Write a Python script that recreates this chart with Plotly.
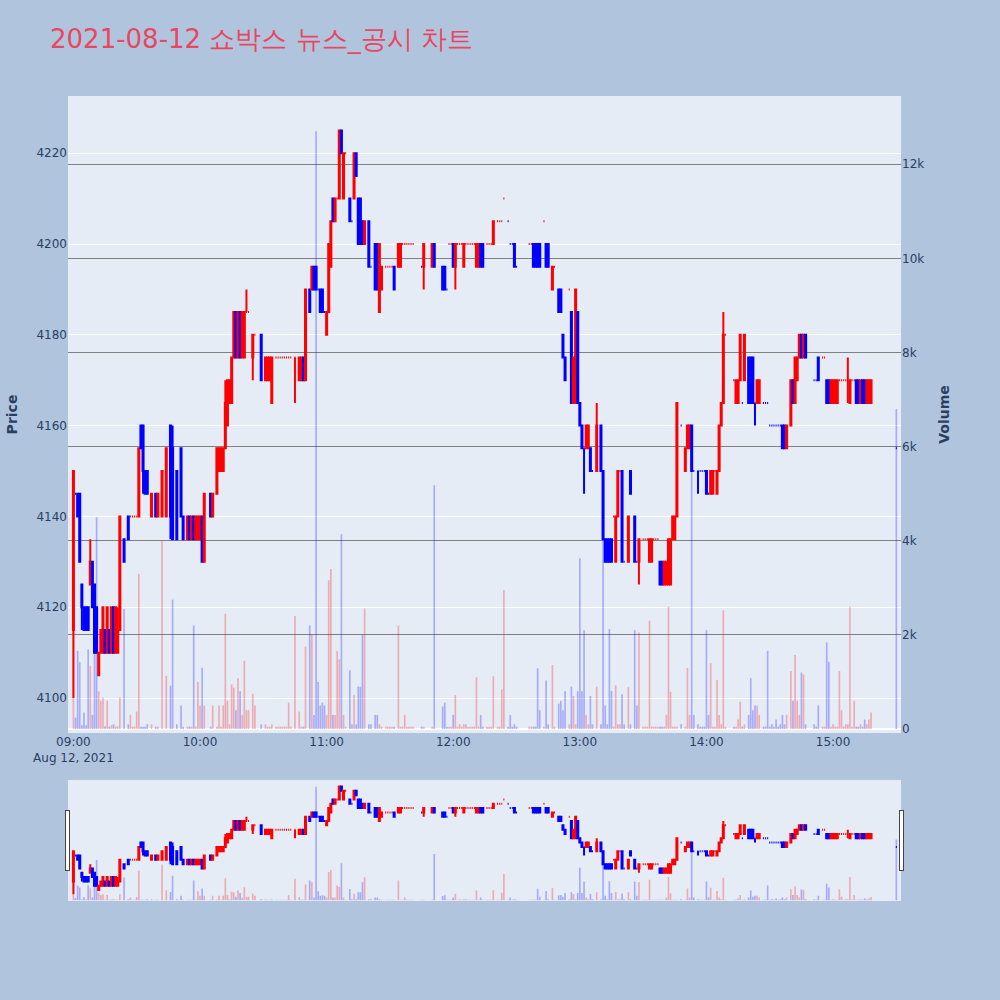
import plotly.graph_objects as go
from plotly.subplots import make_subplots

TRADE_DATE = "2021-08-12"
TITLE = "2021-08-12 쇼박스 뉴스_공시 차트"

times = [
    "09:00", "09:01", "09:02", "09:03", "09:04", "09:05", "09:06", "09:07", "09:08", "09:09",
    "09:10", "09:11", "09:12", "09:13", "09:14", "09:15", "09:16", "09:17", "09:18", "09:19",
    "09:20", "09:21", "09:22", "09:24", "09:26", "09:27", "09:28", "09:29", "09:30", "09:31",
    "09:32", "09:33", "09:34", "09:35", "09:37", "09:39", "09:40", "09:42", "09:44", "09:46",
    "09:47", "09:49", "09:51", "09:52", "09:54", "09:55", "09:56", "09:57", "09:58", "09:59",
    "10:00", "10:01", "10:02", "10:05", "10:06", "10:08", "10:09", "10:10", "10:11", "10:12",
    "10:13", "10:14", "10:15", "10:16", "10:17", "10:18", "10:19", "10:20", "10:21", "10:22",
    "10:23", "10:25", "10:26", "10:29", "10:31", "10:32", "10:33", "10:34", "10:36", "10:37",
    "10:38", "10:39", "10:40", "10:41", "10:42", "10:43", "10:45", "10:47", "10:48", "10:49",
    "10:50", "10:52", "10:53", "10:54", "10:55", "10:56", "10:57", "10:58", "10:59", "11:00",
    "11:01", "11:02", "11:03", "11:04", "11:05", "11:06", "11:07", "11:08", "11:09", "11:11",
    "11:12", "11:13", "11:14", "11:15", "11:16", "11:17", "11:18", "11:20", "11:21", "11:23",
    "11:24", "11:25", "11:26", "11:28", "11:29", "11:30", "11:31", "11:32", "11:34", "11:35",
    "11:36", "11:37", "11:38", "11:39", "11:40", "11:41", "11:45", "11:46", "11:50", "11:51",
    "11:55", "11:56", "11:57", "11:58", "11:59", "12:00", "12:01", "12:02", "12:03", "12:04",
    "12:05", "12:06", "12:07", "12:08", "12:09", "12:10", "12:11", "12:12", "12:13", "12:14",
    "12:16", "12:17", "12:18", "12:19", "12:21", "12:22", "12:23", "12:24", "12:26", "12:27",
    "12:28", "12:29", "12:30", "12:36", "12:37", "12:38", "12:39", "12:40", "12:41", "12:43",
    "12:44", "12:45", "12:47", "12:48", "12:50", "12:51", "12:52", "12:53", "12:55", "12:56",
    "12:57", "12:58", "12:59", "13:00", "13:01", "13:02", "13:03", "13:04", "13:05", "13:06",
    "13:08", "13:10", "13:11", "13:12", "13:13", "13:14", "13:15", "13:16", "13:17", "13:18",
    "13:19", "13:20", "13:21", "13:23", "13:24", "13:26", "13:27", "13:28", "13:30", "13:31",
    "13:32", "13:33", "13:34", "13:35", "13:36", "13:37", "13:38", "13:39", "13:40", "13:41",
    "13:42", "13:43", "13:44", "13:45", "13:46", "13:48", "13:50", "13:51", "13:52", "13:53",
    "13:54", "13:56", "13:57", "13:58", "13:59", "14:00", "14:01", "14:02", "14:03", "14:04",
    "14:05", "14:06", "14:07", "14:08", "14:09", "14:13", "14:14", "14:15", "14:16", "14:17",
    "14:18", "14:20", "14:21", "14:22", "14:23", "14:24", "14:25", "14:27", "14:28", "14:29",
    "14:30", "14:31", "14:32", "14:33", "14:34", "14:35", "14:36", "14:37", "14:38", "14:40",
    "14:41", "14:42", "14:43", "14:44", "14:45", "14:46", "14:47", "14:51", "14:52", "14:53",
    "14:55", "14:56", "14:57", "14:58", "14:59", "15:00", "15:01", "15:02", "15:03", "15:04",
    "15:05", "15:06", "15:07", "15:08", "15:09", "15:10", "15:11", "15:12", "15:13", "15:14",
    "15:15", "15:16", "15:17", "15:18", "15:30",
]

opens = [
    4115, 4145, 4145, 4145, 4125, 4120, 4120, 4120, 4125, 4130,
    4125, 4120, 4105, 4110, 4110, 4115, 4110, 4115, 4110, 4120,
    4110, 4110, 4115, 4135, 4140, 4140, 4140, 4140, 4140, 4140,
    4160, 4160, 4150, 4150, 4140, 4145, 4140, 4140, 4140, 4160,
    4155, 4150, 4155, 4140, 4135, 4140, 4135, 4140, 4135, 4135,
    4135, 4140, 4130, 4145, 4140, 4145, 4150, 4150, 4150, 4155,
    4160, 4165, 4165, 4175, 4185, 4175, 4185, 4175, 4175, 4185,
    4185, 4175, 4180, 4180, 4170, 4170, 4170, 4165, 4175, 4175,
    4175, 4175, 4175, 4175, 4175, 4175, 4175, 4170, 4170, 4175,
    4170, 4190, 4190, 4195, 4195, 4190, 4190, 4190, 4185, 4180,
    4185, 4195, 4210, 4205, 4210, 4210, 4225, 4210, 4220, 4210,
    4205, 4210, 4220, 4210, 4210, 4205, 4200, 4205, 4195, 4200,
    4200, 4185, 4190, 4195, 4195, 4195, 4195, 4195, 4195, 4195,
    4200, 4200, 4200, 4200, 4200, 4200, 4195, 4195, 4195, 4200,
    4195, 4195, 4190, 4200, 4200, 4200, 4195, 4200, 4200, 4200,
    4195, 4200, 4200, 4200, 4200, 4200, 4195, 4195, 4200, 4200,
    4200, 4200, 4200, 4200, 4205, 4205, 4205, 4210, 4205, 4200,
    4200, 4200, 4195, 4200, 4200, 4200, 4200, 4200, 4200, 4205,
    4200, 4200, 4190, 4195, 4190, 4190, 4180, 4175, 4190, 4185,
    4165, 4165, 4185, 4165, 4160, 4155, 4155, 4155, 4155, 4150,
    4150, 4160, 4150, 4135, 4135, 4135, 4135, 4140, 4130, 4140,
    4150, 4150, 4130, 4130, 4150, 4140, 4130, 4130, 4135, 4135,
    4135, 4130, 4130, 4135, 4135, 4135, 4130, 4130, 4125, 4125,
    4125, 4125, 4135, 4135, 4140, 4160, 4150, 4155, 4155, 4160,
    4150, 4150, 4150, 4150, 4150, 4150, 4145, 4145, 4145, 4150,
    4145, 4150, 4160, 4165, 4180, 4170, 4165, 4165, 4170, 4165,
    4170, 4175, 4175, 4175, 4165, 4165, 4165, 4165, 4165, 4165,
    4160, 4160, 4160, 4160, 4160, 4160, 4160, 4160, 4155, 4160,
    4170, 4165, 4170, 4175, 4180, 4175, 4180, 4170, 4170, 4175,
    4175, 4175, 4170, 4170, 4165, 4165, 4165, 4165, 4170, 4170,
    4170, 4170, 4170, 4165, 4170, 4170, 4170, 4170, 4165, 4170,
    4170, 4165, 4165, 4165, 4155,
]

highs = [
    4150, 4145, 4145, 4145, 4125, 4120, 4120, 4120, 4135, 4130,
    4125, 4120, 4110, 4115, 4120, 4115, 4120, 4115, 4120, 4120,
    4120, 4120, 4140, 4135, 4140, 4140, 4140, 4140, 4140, 4155,
    4160, 4160, 4150, 4150, 4145, 4145, 4145, 4150, 4155, 4160,
    4160, 4150, 4155, 4140, 4140, 4140, 4140, 4140, 4140, 4140,
    4140, 4140, 4145, 4145, 4145, 4155, 4155, 4155, 4155, 4170,
    4170, 4170, 4175, 4185, 4185, 4185, 4185, 4185, 4185, 4190,
    4185, 4180, 4180, 4180, 4175, 4175, 4175, 4175, 4175, 4175,
    4175, 4175, 4175, 4175, 4175, 4175, 4175, 4175, 4175, 4175,
    4190, 4190, 4195, 4195, 4195, 4190, 4190, 4190, 4185, 4185,
    4200, 4205, 4210, 4210, 4210, 4225, 4225, 4220, 4220, 4210,
    4205, 4220, 4220, 4210, 4210, 4205, 4205, 4205, 4195, 4200,
    4200, 4200, 4195, 4195, 4195, 4195, 4195, 4195, 4200, 4200,
    4200, 4200, 4200, 4200, 4200, 4200, 4195, 4200, 4200, 4200,
    4195, 4195, 4190, 4200, 4200, 4200, 4200, 4200, 4200, 4200,
    4200, 4200, 4200, 4200, 4200, 4200, 4200, 4200, 4200, 4200,
    4200, 4200, 4200, 4205, 4205, 4205, 4205, 4210, 4205, 4200,
    4200, 4200, 4195, 4200, 4200, 4200, 4200, 4200, 4200, 4205,
    4200, 4200, 4195, 4195, 4190, 4190, 4180, 4175, 4190, 4185,
    4175, 4190, 4185, 4165, 4160, 4155, 4160, 4160, 4155, 4150,
    4165, 4160, 4150, 4135, 4135, 4135, 4135, 4140, 4140, 4150,
    4150, 4150, 4130, 4140, 4150, 4140, 4130, 4135, 4135, 4135,
    4135, 4135, 4135, 4135, 4135, 4135, 4130, 4130, 4130, 4130,
    4135, 4135, 4140, 4140, 4165, 4160, 4155, 4160, 4160, 4160,
    4150, 4150, 4150, 4150, 4150, 4150, 4145, 4150, 4150, 4150,
    4150, 4160, 4165, 4185, 4180, 4170, 4170, 4170, 4180, 4165,
    4180, 4175, 4175, 4175, 4165, 4170, 4170, 4165, 4165, 4165,
    4160, 4160, 4160, 4160, 4160, 4160, 4160, 4160, 4160, 4170,
    4170, 4175, 4175, 4180, 4180, 4180, 4180, 4170, 4170, 4175,
    4175, 4175, 4170, 4170, 4170, 4170, 4170, 4170, 4170, 4170,
    4170, 4170, 4175, 4170, 4170, 4170, 4170, 4170, 4170, 4170,
    4170, 4170, 4170, 4170, 4155,
]

lows = [
    4100, 4145, 4140, 4130, 4115, 4115, 4115, 4115, 4125, 4120,
    4110, 4110, 4105, 4110, 4110, 4110, 4110, 4110, 4110, 4110,
    4110, 4110, 4115, 4130, 4135, 4140, 4140, 4140, 4140, 4140,
    4155, 4145, 4145, 4145, 4140, 4140, 4140, 4140, 4140, 4135,
    4135, 4135, 4140, 4135, 4135, 4135, 4135, 4135, 4135, 4135,
    4135, 4130, 4130, 4140, 4140, 4145, 4150, 4150, 4150, 4155,
    4160, 4165, 4165, 4175, 4175, 4175, 4175, 4175, 4175, 4185,
    4185, 4170, 4180, 4170, 4170, 4170, 4170, 4165, 4175, 4175,
    4175, 4175, 4175, 4175, 4175, 4175, 4165, 4170, 4170, 4170,
    4170, 4185, 4190, 4190, 4190, 4190, 4185, 4185, 4185, 4180,
    4185, 4195, 4205, 4205, 4210, 4210, 4220, 4210, 4220, 4205,
    4205, 4210, 4215, 4200, 4200, 4200, 4200, 4195, 4195, 4190,
    4190, 4185, 4190, 4195, 4195, 4195, 4195, 4190, 4195, 4195,
    4200, 4200, 4200, 4200, 4200, 4200, 4195, 4190, 4195, 4195,
    4190, 4190, 4190, 4200, 4200, 4195, 4190, 4200, 4200, 4200,
    4195, 4200, 4200, 4200, 4200, 4200, 4195, 4195, 4195, 4195,
    4200, 4200, 4200, 4200, 4205, 4205, 4205, 4210, 4205, 4200,
    4200, 4195, 4195, 4200, 4200, 4195, 4195, 4195, 4195, 4205,
    4195, 4195, 4190, 4195, 4185, 4185, 4175, 4170, 4190, 4165,
    4165, 4165, 4165, 4160, 4155, 4145, 4155, 4155, 4150, 4150,
    4150, 4150, 4135, 4130, 4130, 4130, 4130, 4140, 4130, 4140,
    4150, 4130, 4130, 4130, 4145, 4130, 4130, 4125, 4135, 4135,
    4135, 4130, 4130, 4135, 4135, 4135, 4125, 4125, 4125, 4125,
    4125, 4125, 4135, 4135, 4140, 4160, 4150, 4155, 4155, 4150,
    4150, 4145, 4150, 4150, 4150, 4145, 4145, 4145, 4145, 4150,
    4145, 4150, 4160, 4165, 4180, 4170, 4165, 4165, 4170, 4165,
    4170, 4165, 4165, 4165, 4160, 4165, 4165, 4165, 4165, 4165,
    4160, 4160, 4160, 4160, 4160, 4160, 4155, 4155, 4155, 4160,
    4165, 4165, 4170, 4175, 4175, 4175, 4175, 4170, 4170, 4170,
    4175, 4175, 4165, 4165, 4165, 4165, 4165, 4165, 4170, 4170,
    4170, 4170, 4165, 4165, 4170, 4170, 4165, 4165, 4165, 4165,
    4165, 4165, 4165, 4165, 4155,
]

closes = [
    4150, 4145, 4140, 4130, 4120, 4115, 4115, 4115, 4130, 4120,
    4110, 4110, 4110, 4115, 4120, 4110, 4120, 4110, 4120, 4110,
    4120, 4115, 4140, 4130, 4135, 4140, 4140, 4140, 4140, 4155,
    4155, 4150, 4145, 4145, 4145, 4140, 4145, 4150, 4155, 4140,
    4135, 4135, 4140, 4135, 4140, 4135, 4140, 4135, 4140, 4140,
    4140, 4130, 4145, 4140, 4145, 4155, 4155, 4155, 4155, 4165,
    4170, 4170, 4175, 4185, 4175, 4185, 4175, 4185, 4185, 4185,
    4185, 4180, 4180, 4170, 4175, 4175, 4175, 4175, 4175, 4175,
    4175, 4175, 4175, 4175, 4175, 4175, 4175, 4175, 4175, 4170,
    4190, 4185, 4195, 4190, 4190, 4190, 4185, 4185, 4185, 4185,
    4200, 4205, 4205, 4210, 4210, 4225, 4220, 4220, 4220, 4205,
    4205, 4220, 4215, 4200, 4200, 4200, 4205, 4195, 4195, 4190,
    4190, 4200, 4195, 4195, 4195, 4195, 4195, 4190, 4200, 4200,
    4200, 4200, 4200, 4200, 4200, 4200, 4195, 4200, 4200, 4195,
    4190, 4190, 4190, 4200, 4200, 4195, 4200, 4200, 4200, 4200,
    4200, 4200, 4200, 4200, 4200, 4200, 4200, 4200, 4195, 4195,
    4200, 4200, 4200, 4205, 4205, 4205, 4205, 4210, 4205, 4200,
    4200, 4195, 4195, 4200, 4200, 4195, 4195, 4195, 4195, 4205,
    4195, 4195, 4195, 4195, 4185, 4185, 4175, 4170, 4190, 4165,
    4175, 4190, 4165, 4160, 4155, 4155, 4160, 4160, 4150, 4150,
    4160, 4150, 4135, 4130, 4130, 4130, 4130, 4140, 4140, 4150,
    4150, 4130, 4130, 4140, 4145, 4130, 4130, 4135, 4135, 4135,
    4135, 4135, 4135, 4135, 4135, 4135, 4125, 4125, 4130, 4130,
    4135, 4135, 4140, 4140, 4165, 4160, 4155, 4160, 4160, 4150,
    4150, 4150, 4150, 4150, 4150, 4145, 4145, 4150, 4150, 4150,
    4150, 4160, 4165, 4180, 4180, 4170, 4170, 4170, 4180, 4165,
    4180, 4165, 4165, 4165, 4165, 4170, 4170, 4165, 4165, 4165,
    4160, 4160, 4160, 4160, 4160, 4160, 4155, 4155, 4160, 4170,
    4165, 4175, 4175, 4180, 4175, 4180, 4175, 4170, 4170, 4170,
    4175, 4175, 4165, 4165, 4170, 4170, 4170, 4170, 4170, 4170,
    4170, 4170, 4170, 4170, 4170, 4170, 4165, 4165, 4170, 4165,
    4165, 4170, 4170, 4170, 4155,
]

volumes = [
    2800, 240, 1660, 1420, 80, 350, 80, 1690, 1340, 300,
    1690, 4500, 800, 600, 670, 60, 600, 50, 80, 100,
    50, 60, 670, 2550, 100, 300, 50, 50, 370, 3300,
    50, 50, 50, 100, 100, 50, 50, 4000, 1130, 920,
    2750, 100, 500, 50, 50, 50, 50, 2200, 50, 1000,
    500, 1300, 500, 50, 500, 50, 500, 50, 500, 2450,
    600, 100, 950, 880, 400, 1080, 800, 300, 1450, 400,
    400, 750, 500, 100, 100, 50, 50, 100, 50, 50,
    50, 50, 50, 50, 560, 50, 2400, 370, 50, 50,
    1750, 2200, 2000, 300, 12700, 1000, 500, 560, 500, 300,
    3160, 3400, 300, 300, 1660, 1480, 4140, 300, 50, 1250,
    100, 720, 100, 900, 900, 2000, 2560, 100, 100, 300,
    300, 100, 50, 50, 50, 50, 50, 50, 2200, 50,
    50, 300, 50, 50, 50, 50, 50, 50, 50, 5180,
    480, 560, 50, 50, 50, 300, 720, 50, 100, 50,
    100, 100, 50, 50, 50, 50, 1100, 50, 300, 50,
    50, 50, 50, 1120, 50, 50, 840, 2950, 50, 300,
    50, 100, 50, 50, 50, 50, 50, 1290, 400, 50,
    1030, 100, 1360, 50, 540, 600, 400, 800, 100, 900,
    700, 100, 800, 3630, 800, 2100, 300, 100, 700, 100,
    900, 100, 4000, 500, 100, 2120, 810, 50, 930, 100,
    100, 740, 100, 890, 100, 2100, 500, 2050, 50, 50,
    50, 2300, 50, 50, 50, 50, 50, 50, 50, 300,
    2600, 790, 50, 50, 50, 100, 50, 1300, 300, 6400,
    300, 100, 50, 50, 50, 2100, 300, 1400, 50, 50,
    1040, 300, 100, 2520, 50, 50, 50, 200, 580, 50,
    100, 300, 1080, 400, 500, 500, 300, 50, 50, 1660,
    50, 100, 50, 200, 50, 100, 300, 100, 300, 1230,
    600, 1570, 600, 300, 1200, 1160, 100, 100, 50, 500,
    50, 50, 1840, 1430, 50, 100, 50, 50, 1230, 400,
    50, 100, 100, 2600, 50, 600, 50, 50, 100, 50,
    200, 100, 200, 350, 6800,
]

UP_COLOR = "red"
DOWN_COLOR = "blue"
FONT = "DejaVu Sans"

x = [f"{TRADE_DATE} {t}:00" for t in times]

# volume bar colour follows candle direction (same rule plotly uses for candles)
vol_colors = []
rising = True
prev_close = None
for o, c in zip(opens, closes):
    if c == o:
        if prev_close is not None and c != prev_close:
            rising = c > prev_close
    else:
        rising = c > o
    prev_close = c
    vol_colors.append("rgba(255,0,0,0.27)" if rising else "rgba(0,0,255,0.27)")

fig = make_subplots(specs=[[{"secondary_y": True}]])

fig.add_trace(
    go.Candlestick(
        x=x, open=opens, high=highs, low=lows, close=closes,
        increasing=dict(line=dict(color=UP_COLOR, width=2), fillcolor=UP_COLOR),
        decreasing=dict(line=dict(color=DOWN_COLOR, width=2), fillcolor=DOWN_COLOR),
        name="Price", showlegend=False,
    ),
    secondary_y=False,
)

fig.add_trace(
    go.Bar(
        x=x, y=volumes,
        marker=dict(color=vol_colors, line=dict(width=0)),
        name="Volume", showlegend=False,
    ),
    secondary_y=True,
)

x_range = [f"{TRADE_DATE} 08:57:26", f"{TRADE_DATE} 15:32:12"]

fig.update_layout(
    width=1000, height=1000,
    font=dict(family=FONT),
    paper_bgcolor="lightsteelblue",
    plot_bgcolor="#E5ECF6",
    title=dict(text=TITLE, x=0.05, font=dict(size=26, color="#E8485F")),
    margin=dict(l=68, r=99, t=96, b=100),
    showlegend=False,
)
fig.update_xaxes(domain=[0, 1], range=x_range, rangeslider=dict(visible=True, range=x_range))
fig.update_yaxes(title_text="<b>Price</b>", range=[4092.3, 4232.6], automargin=False,
                 secondary_y=False)
fig.update_yaxes(title_text="<b>Volume</b>", range=[-85, 13450], gridcolor="gray",
                 automargin=False, secondary_y=True)

fig.write_html("out.html", config={"displayModeBar": False},
               post_script="document.body.style.margin='0px';")
